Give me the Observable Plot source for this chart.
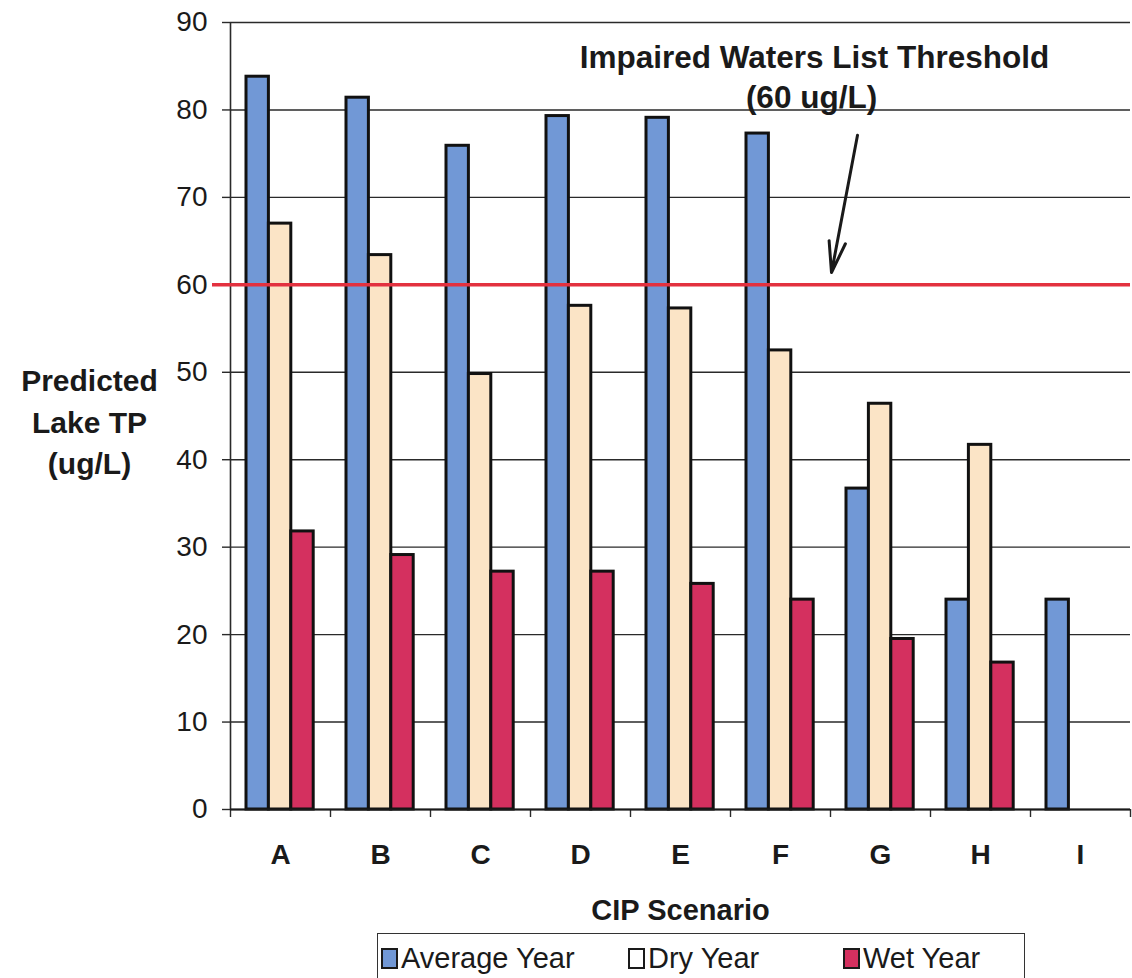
<!DOCTYPE html>
<html>
<head>
<meta charset="utf-8">
<script src="https://cdn.jsdelivr.net/npm/d3@7"></script>
<script src="https://cdn.jsdelivr.net/npm/@observablehq/plot@0.6"></script>
<style>
  body { margin: 0; background: #fff; font-family: "Liberation Sans", Arial, sans-serif; }
  #wrap { position: relative; width: 1132px; height: 978px; overflow: hidden; }
  #legend { position: absolute; left: 377px; top: 933px; width: 648px; height: 60px;
            border: 1.5px solid #333; box-sizing: border-box; background: #fff; }
  .item { position: absolute; top: 8px; font-size: 29px; color: #1a1a1a; line-height: 32px; white-space: nowrap; }
  .sw { display: inline-block; width: 13px; height: 17px; border: 2px solid #1a1a1a; vertical-align: -1px; margin-right: 3px; }
</style>
</head>
<body>
<div id="wrap">
  <div id="chart"></div>
  <div id="legend"></div>
</div>
<script>
// ---- data ----
const categories = ["A", "B", "C", "D", "E", "F", "G", "H", "I"];
const seriesNames = ["Average Year", "Dry Year", "Wet Year"];
const averageYear = [83.8, 81.4, 75.9, 79.3, 79.1, 77.3, 36.7, 24.0, 24.0];
const dryYear     = [67.0, 63.4, 49.8, 57.6, 57.3, 52.5, 46.4, 41.7, null];
const wetYear     = [31.8, 29.1, 27.2, 27.2, 25.8, 24.0, 19.5, 16.8, null];
const seriesColors = ["#7198d6", "#fbe4c6", "#d4305f"];
const legendSwatch = ["#7198d6", "#ffffff", "#d4305f"];
const yTicks = [0, 10, 20, 30, 40, 50, 60, 70, 80, 90];
const threshold = 60;
const annotationLines = ["Impaired Waters List Threshold", "(60 ug/L)"];
const yLabel = "Predicted\nLake TP\n(ug/L)";
const xLabel = "CIP Scenario";

// ---- table ----
const seriesValues = [averageYear, dryYear, wetYear];
const rows = [];
seriesValues.forEach((vals, s) => {
  vals.forEach((v, i) => {
    if (v != null) rows.push({i, category: categories[i], s, series: seriesNames[s], value: v});
  });
});

const groupOffset = 0.16, barW = 0.224;
const W = 1132, H = 930;

const chart = Plot.plot({
  width: W,
  height: H,
  marginLeft: 230,
  marginRight: 2,
  marginTop: 22,
  marginBottom: H - 809,
  style: {fontFamily: "'Liberation Sans', Arial, sans-serif", background: "#fff", color: "#1a1a1a"},
  x: {domain: [0, categories.length], axis: null},
  y: {domain: [0, 90], axis: null},
  color: {domain: seriesNames, range: seriesColors},
  marks: [
    Plot.gridY(yTicks, {stroke: "#2a2a2a", strokeOpacity: 1, strokeWidth: 1.4}),
    Plot.axisY(yTicks, {tickSize: 8, tickPadding: 15, fontSize: 28, stroke: "#2a2a2a", strokeWidth: 1.4, label: null}),
    Plot.axisX(d3.range(categories.length + 1), {tickSize: 8, tickFormat: () => "", stroke: "#2a2a2a", strokeWidth: 1.4, label: null}),
    Plot.rectY(rows, {
      x1: d => d.i + groupOffset + d.s * barW,
      x2: d => d.i + groupOffset + (d.s + 1) * barW,
      y: "value",
      fill: "series",
      stroke: "#111",
      strokeWidth: 3
    }),
    Plot.ruleX([0], {stroke: "#2a2a2a", strokeWidth: 1.6}),
    Plot.ruleY([0], {stroke: "#1a1a1a", strokeWidth: 2}),
    Plot.ruleY([threshold], {stroke: "#e3313f", strokeWidth: 3.5, insetLeft: -18}),
    Plot.text(categories, {x: (d, i) => i + 0.5, y: 0, dy: 46, text: d => d, fontSize: 28, fontWeight: "bold", fill: "#1a1a1a"}),
    Plot.text([xLabel], {x: categories.length / 2, y: 0, dy: 101, text: d => d, fontSize: 29, fontWeight: "bold", fill: "#1a1a1a"}),
    Plot.text([yLabel], {x: -1.41, y: 44.6, text: d => d, fontSize: 30, fontWeight: "bold", lineHeight: 1.38, fill: "#1a1a1a"}),
    Plot.text([annotationLines[0]], {x: 5.84, y: 86.0, text: d => d, fontSize: 31.5, fontWeight: "bold", fill: "#1a1a1a"}),
    Plot.text([annotationLines[1]], {x: 5.81, y: 81.4, text: d => d, fontSize: 31.5, fontWeight: "bold", fill: "#1a1a1a"}),
    Plot.arrow([{x1: 6.27, y1: 77.1, x2: 6.01, y2: 61.4}], {x1: "x1", y1: "y1", x2: "x2", y2: "y2", stroke: "#1a1a1a", strokeWidth: 3, headLength: 16, headAngle: 30})
  ]
});
document.getElementById("chart").appendChild(chart);

// ---- legend ----
const legend = document.getElementById("legend");
const legendLeft = [3, 250, 465];
seriesNames.forEach((name, k) => {
  const it = document.createElement("div");
  it.className = "item";
  it.style.left = legendLeft[k] + "px";
  const sw = document.createElement("span");
  sw.className = "sw";
  sw.style.background = legendSwatch[k];
  it.appendChild(sw);
  it.appendChild(document.createTextNode(name));
  legend.appendChild(it);
});
</script>
</body>
</html>
